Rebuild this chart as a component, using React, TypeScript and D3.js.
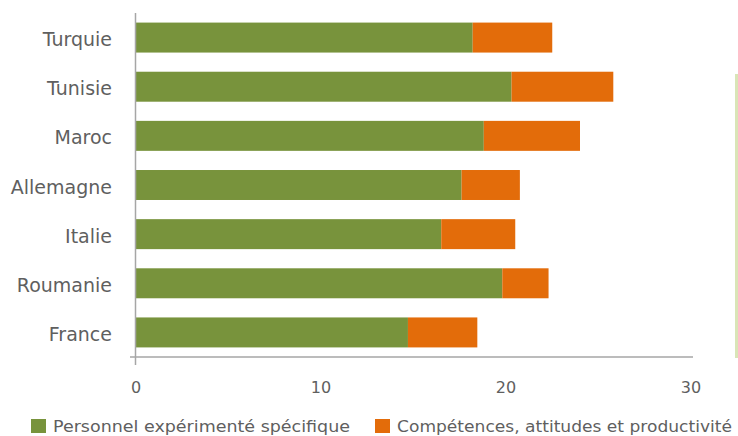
import React from "react";
import * as d3 from "d3";

const categories = ["Turquie", "Tunisie", "Maroc", "Allemagne", "Italie", "Roumanie", "France"];
const personnel = [18.2, 20.3, 18.8, 17.6, 16.5, 19.8, 14.7];
const competences = [4.3, 5.5, 5.2, 3.15, 4.0, 2.5, 3.75];
const xTicks = [0, 10, 20, 30];
const seriesNames = ["Personnel expérimenté spécifique", "Compétences, attitudes et productivité"];
const colors = ["#78933c", "#e36c0a"];

const W = 738;
const H = 436;
const FONT = "'DejaVu Sans', 'Open Sans', sans-serif";
const TEXT = "#5f5f5f";

export default function App() {
  const x = d3.scaleLinear().domain([0, 30]).range([136, 691]);
  const y = d3.scaleBand<string>().domain(categories).range([13, 357]).paddingInner(0.39).paddingOuter(0.195);
  const stack = categories.map((c, i) => ({ c, a: personnel[i], b: competences[i] }));

  return (
    <svg width={W} height={H} style={{ position: "absolute", left: 0, top: 0, background: "#fff" }} fontFamily={FONT}>
      {stack.map((d) => (
        <g key={d.c}>
          <rect x={x(0)} y={y(d.c)} width={x(d.a) - x(0)} height={y.bandwidth()} fill={colors[0]} />
          <rect x={x(d.a)} y={y(d.c)} width={x(d.a + d.b) - x(d.a)} height={y.bandwidth()} fill={colors[1]} />
          <text x={112} y={(y(d.c) as number) + y.bandwidth() / 2 + 8.5} textAnchor="end" fontSize={19} fill={TEXT}>
            {d.c}
          </text>
        </g>
      ))}
      {/* axes */}
      <line x1={135.5} x2={135.5} y1={13} y2={365} stroke="#a6a6a6" strokeWidth={1.5} />
      <line x1={130} x2={693} y1={357} y2={357} stroke="#a6a6a6" strokeWidth={1.5} />
      {xTicks.map((t) => (
        <text key={t} x={x(t)} y={393} textAnchor="middle" fontSize={16} fill={TEXT}>
          {t}
        </text>
      ))}
      {/* right decorative line */}
      <rect x={735} y={74} width={3} height={284} fill="#d9e5b7" />
      {/* legend */}
      <rect x={31} y={419} width={15} height={14} fill={colors[0]} />
      <text x={53} y={432} fontSize={15.5} fill={TEXT} textLength={297} lengthAdjust="spacingAndGlyphs">
        {seriesNames[0]}
      </text>
      <rect x={375} y={419} width={15} height={14} fill={colors[1]} />
      <text x={397} y={432} fontSize={15.5} fill={TEXT} textLength={335} lengthAdjust="spacingAndGlyphs">
        {seriesNames[1]}
      </text>
    </svg>
  );
}
